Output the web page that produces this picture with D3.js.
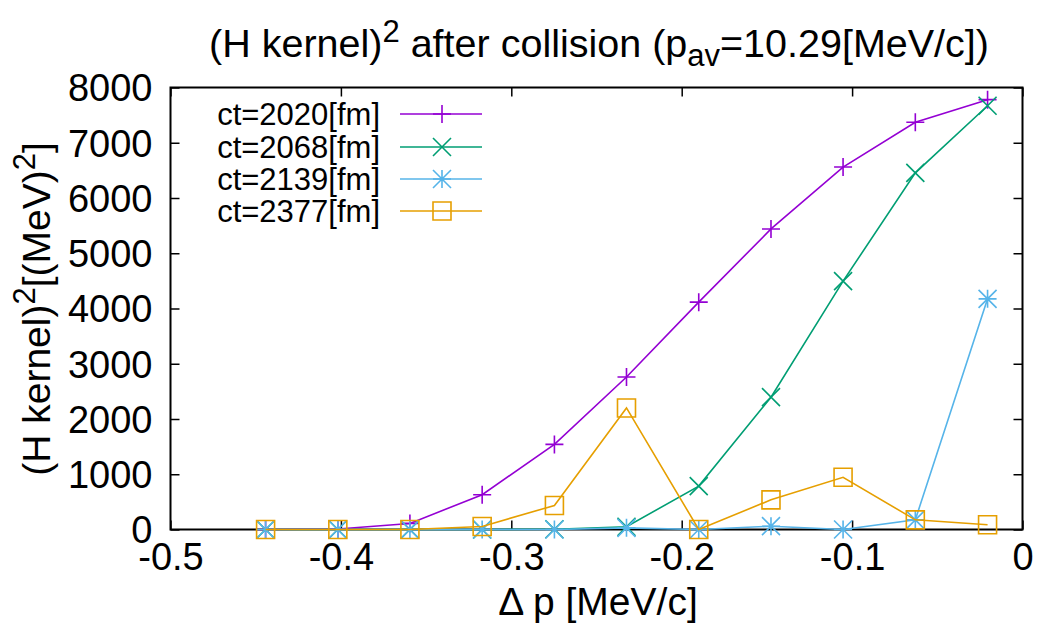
<!DOCTYPE html>
<html>
<head>
<meta charset="UTF-8" />
<script src="https://d3js.org/d3.v7.min.js"></script>
<style>
  body { margin: 0; background: #fff; }
  svg { font-family: "Liberation Sans", Arial, sans-serif; }
</style>
</head>
<body>
<svg width="1043" height="625"></svg>
<script>
  // Δp values (MeV/c)
  const dp = [-0.4442, -0.4018, -0.3595, -0.3171, -0.2747, -0.2324, -0.1900, -0.1476, -0.1053, -0.0629, -0.0205];

  const ct2020 = [0, 10, 110, 630, 1540, 2760, 4115, 5440, 6560, 7370, 7780];
  const ct2068 = [0, 0, 0, 0, 5, 50, 785, 2395, 4495, 6455, 7670];
  const ct2139 = [0, 0, 0, 0, 0, 30, 0, 60, 0, 175, 4175];
  const ct2377 = [0, 0, 0, 55, 435, 2200, 0, 537, 945, 175, 85];

  const seriesNames = ["ct=2020[fm]", "ct=2068[fm]", "ct=2139[fm]", "ct=2377[fm]"];
  const seriesColors = ["#9400d3", "#009e73", "#56b4e9", "#e69f00"];
  const seriesMarks = ["plus", "cross", "star", "square"];
  const seriesValues = [ct2020, ct2068, ct2139, ct2377];

  const xTicks = [-0.5, -0.4, -0.3, -0.2, -0.1, 0];
  const yTicks = [0, 1000, 2000, 3000, 4000, 5000, 6000, 7000, 8000];

  const svg = d3.select("svg");
  const mLeft = 170.5, mRight = 1022.5, mTop = 87.5, mBottom = 529.5;

  const x = d3.scaleLinear().domain([-0.5, 0]).range([mLeft, mRight]);
  const y = d3.scaleLinear().domain([0, 8000]).range([mBottom, mTop]);

  // cadre
  svg.append("rect")
    .attr("x", mLeft).attr("y", mTop)
    .attr("width", mRight - mLeft).attr("height", mBottom - mTop)
    .attr("fill", "none").attr("stroke", "black").attr("stroke-width", 2);

  // axes (ticks à l'intérieur, comme gnuplot)
  const fmtX = d => d === 0 ? "0" : d3.format(".1f")(d).replace("−", "-");
  const gx = svg.append("g").attr("transform", `translate(0,${mBottom})`)
    .call(d3.axisBottom(x).tickValues(xTicks).tickSize(-9).tickFormat(fmtX));
  const gx2 = svg.append("g").attr("transform", `translate(0,${mTop})`)
    .call(d3.axisTop(x).tickValues(xTicks).tickSize(-9).tickFormat(""));
  const gy = svg.append("g").attr("transform", `translate(${mLeft},0)`)
    .call(d3.axisLeft(y).tickValues(yTicks).tickSize(-9).tickFormat(d3.format("d")));
  const gy2 = svg.append("g").attr("transform", `translate(${mRight},0)`)
    .call(d3.axisRight(y).tickValues(yTicks).tickSize(-9).tickFormat(""));

  [gx, gx2, gy, gy2].forEach(g => {
    g.attr("font-family", null);
    g.select(".domain").remove();
    g.selectAll(".tick line").attr("stroke", "black").attr("stroke-width", 1.5);
  });
  gx.selectAll(".tick text").attr("font-size", 38).attr("fill", "black").attr("y", 14).attr("dy", "0.71em");
  gy.selectAll(".tick text").attr("font-size", 38).attr("fill", "black").attr("x", -18).attr("dy", "0.35em");

  // séries
  const line = d3.line().x((d, i) => x(dp[i])).y(d => y(d));
  const s = 9;
  function marker(g, type, cx, cy, color) {
    const p = g.append("path").attr("fill", "none").attr("stroke", color).attr("stroke-width", 1.6);
    if (type === "plus") p.attr("d", `M${cx - s},${cy}H${cx + s}M${cx},${cy - s}V${cy + s}`);
    if (type === "cross") p.attr("d", `M${cx - s},${cy - s}L${cx + s},${cy + s}M${cx - s},${cy + s}L${cx + s},${cy - s}`);
    if (type === "star") p.attr("d", `M${cx - s},${cy}H${cx + s}M${cx},${cy - s}V${cy + s}M${cx - s},${cy - s}L${cx + s},${cy + s}M${cx - s},${cy + s}L${cx + s},${cy - s}`);
    if (type === "square") p.attr("d", `M${cx - s},${cy - s}H${cx + s}V${cy + s}H${cx - s}Z`);
  }

  seriesValues.forEach((vals, k) => {
    const g = svg.append("g");
    g.append("path").datum(vals)
      .attr("d", line)
      .attr("fill", "none")
      .attr("stroke", seriesColors[k])
      .attr("stroke-width", 1.6);
    vals.forEach((v, i) => marker(g, seriesMarks[k], x(dp[i]), y(v), seriesColors[k]));
  });

  // légende
  const legY = [114, 147, 179, 211];
  seriesNames.forEach((name, k) => {
    const g = svg.append("g");
    g.append("text").attr("x", 380).attr("y", legY[k]).attr("dy", "0.35em")
      .attr("text-anchor", "end").attr("font-size", 31).text(name);
    g.append("line").attr("x1", 400).attr("x2", 482).attr("y1", legY[k]).attr("y2", legY[k])
      .attr("stroke", seriesColors[k]).attr("stroke-width", 1.6);
    marker(g, seriesMarks[k], 442, legY[k], seriesColors[k]);
  });

  // titre
  const title = svg.append("text").attr("x", 599).attr("y", 57)
    .attr("text-anchor", "middle").attr("font-size", 39.5);
  title.append("tspan").text("(H kernel)");
  title.append("tspan").attr("dy", -15).attr("font-size", 31).text("2");
  title.append("tspan").attr("dy", 15).text(" after collision (p");
  title.append("tspan").attr("dy", 9).attr("font-size", 31).text("av");
  title.append("tspan").attr("dy", -9).text("=10.29[MeV/c])");

  // libellé axe x
  svg.append("text").attr("x", 598).attr("y", 615)
    .attr("text-anchor", "middle").attr("font-size", 39).text("Δ p [MeV/c]");

  // libellé axe y
  const yl = svg.append("text").attr("transform", "translate(50,309) rotate(-90)")
    .attr("text-anchor", "middle").attr("font-size", 39);
  yl.append("tspan").text("(H kernel)");
  yl.append("tspan").attr("dy", -15).attr("font-size", 31).text("2");
  yl.append("tspan").attr("dy", 15).text("[(MeV)");
  yl.append("tspan").attr("dy", -15).attr("font-size", 31).text("2");
  yl.append("tspan").attr("dy", 15).text("]");
</script>
</body>
</html>
